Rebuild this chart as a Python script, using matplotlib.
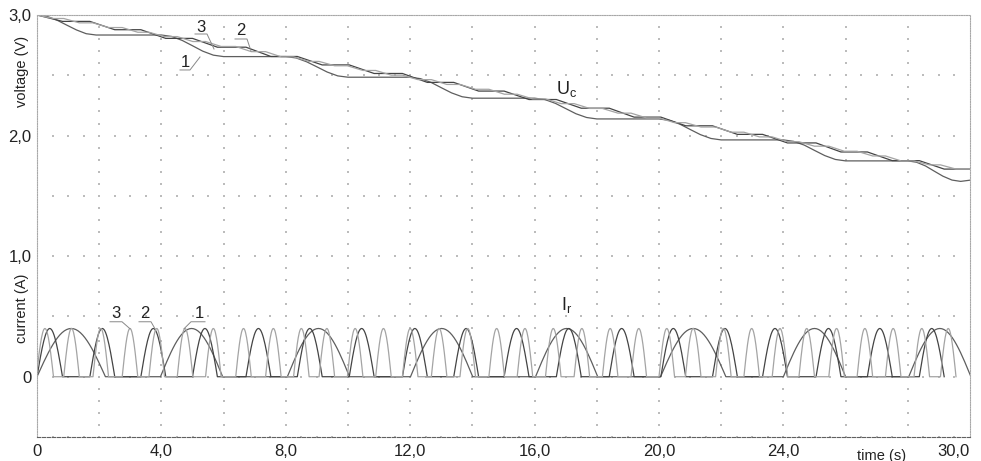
import numpy as np
import matplotlib.pyplot as plt

plt.rcParams['font.family'] = ['Liberation Sans', 'DejaVu Sans']

# ---------------------------------------------------------------------------
# values
# ---------------------------------------------------------------------------
i_peak = 0.4

# current pulses (start, end in s) of the three variants
s1_start = [0.0, 3.97, 8.05, 12.01, 16.03, 20.05, 24.0, 28.03]
s1_end = [2.2, 5.97, 10.05, 14.01, 18.03, 22.15, 26.0, 30.03]

s2_start = [0.0, 1.70, 3.34, 5.00, 6.72, 8.37, 10.04, 11.75, 13.40,
            15.02, 16.70, 18.40, 20.06, 21.72, 23.33, 25.05, 26.70, 28.37]
s2_end = [0.82, 2.50, 4.14, 5.80, 7.52, 9.17, 10.84, 12.55, 14.20,
          15.82, 17.50, 19.20, 20.86, 22.52, 24.13, 25.85, 27.50, 29.17]

s3_start = [-0.02, 0.86, 1.80, 2.74, 3.60, 4.51, 5.42, 6.39, 7.35, 8.25,
            9.07, 9.98, 10.89, 11.75, 12.68, 13.60, 14.53, 15.44, 16.35,
            17.27, 18.18, 19.10, 20.00, 20.85, 21.82, 22.73, 23.64, 24.50,
            25.46, 26.37, 27.28, 28.20, 29.05]
s3_end = [0.53, 1.36, 2.30, 3.24, 4.10, 5.01, 5.92, 6.89, 7.85, 8.75,
          9.57, 10.48, 11.39, 12.25, 13.18, 14.10, 15.03, 15.94, 16.85,
          17.77, 18.68, 19.60, 20.50, 21.35, 22.32, 23.23, 24.14, 25.00,
          25.96, 26.87, 27.78, 28.70, 29.55]

# capacitor voltage
u_start = 3.0
s1_t = [0, 0.32, 0.63, 0.95, 1.27, 1.58, 1.9,
        4.0, 4.33, 4.67, 5.0, 5.33, 5.67, 6.0,
        8.0, 8.33, 8.67, 9.0, 9.33, 9.67, 10.0,
        12.0, 12.33, 12.67, 13.0, 13.33, 13.67, 14.0,
        16.0, 16.33, 16.67, 17.0, 17.33, 17.67, 18.0,
        20.0, 20.33, 20.67, 21.0, 21.33, 21.67, 22.0,
        24.0, 24.33, 24.67, 25.0, 25.33, 25.67, 26.0,
        28.0, 28.28, 28.57, 28.85, 29.13, 29.42, 29.7, 30.0]
s1_u = [3.0, 2.989, 2.959, 2.917, 2.876, 2.845, 2.834,
        2.834, 2.822, 2.789, 2.745, 2.700, 2.667, 2.655,
        2.655, 2.644, 2.612, 2.570, 2.527, 2.495, 2.484,
        2.484, 2.472, 2.441, 2.397, 2.354, 2.322, 2.31,
        2.31, 2.299, 2.267, 2.224, 2.181, 2.150, 2.138,
        2.138, 2.126, 2.095, 2.051, 2.008, 1.976, 1.964,
        1.964, 1.952, 1.921, 1.877, 1.834, 1.802, 1.79,
        1.79, 1.779, 1.748, 1.705, 1.663, 1.631, 1.62, 1.63]
# level reached after each pulse of variants 2 and 3
s2_u = [2.947, 2.878, 2.806, 2.733, 2.656, 2.586, 2.515, 2.441, 2.369,
        2.299, 2.227, 2.153, 2.081, 2.010, 1.939, 1.864, 1.792, 1.722]
s3_u = [2.971, 2.935, 2.896, 2.857, 2.821, 2.780, 2.739, 2.696, 2.653,
        2.615, 2.579, 2.540, 2.501, 2.464, 2.424, 2.384, 2.343, 2.304,
        2.265, 2.225, 2.186, 2.146, 2.107, 2.071, 2.028, 1.989, 1.949,
        1.912, 1.870, 1.831, 1.790, 1.757, 1.722]

colors = ['#5e5e5e', '#444444', '#a4a4a4']


def pulse_line(starts, ends):
    t, i = [], []
    for s, e in zip(starts, ends):
        tt = np.linspace(s, e, 31)
        t.extend(tt)
        i.extend(i_peak * np.sin(np.pi * (tt - s) / (e - s)))
    return t, i


def stair_line(starts, ends, levels):
    t, u = [], []
    prev = u_start
    for s, e, lev in zip(starts, ends, levels):
        t += [s, e]
        u += [prev, lev]
        prev = lev
    return t, u


fig = plt.figure(figsize=(9.81, 4.61), dpi=100)
ax = fig.add_axes([37 / 981, 1 - 437 / 461, 933 / 981, 422 / 461])
ax.set_xlim(0, 30)
ax.set_ylim(-0.5, 3.0)

# dotted grid
gx = np.arange(2, 29, 2)
gy = np.arange(-0.5, 3.01, 0.1)
X, Y = np.meshgrid(gx, gy)
ax.scatter(X.ravel(), Y.ravel(), s=0.55, marker='s', color='#bcbcbc', lw=0, zorder=0)
hx = np.arange(0.5, 30, 0.5)
hy = np.arange(-0.5, 3.0, 0.5)
X, Y = np.meshgrid(hx, hy)
ax.scatter(X.ravel(), Y.ravel(), s=0.55, marker='s', color='#bcbcbc', lw=0, zorder=0)

# currents
for (st, en), c in zip([(s1_start, s1_end), (s2_start, s2_end), (s3_start, s3_end)], colors):
    t, i = pulse_line(st, en)
    ax.plot(t, i, color=c, lw=0.9)

# voltages
ax.plot(s1_t, s1_u, color=colors[0], lw=0.9)
t, u = stair_line(s2_start, s2_end, s2_u)
ax.plot(t + [30], u + [s2_u[-1]], color=colors[1], lw=0.9)
t, u = stair_line(s3_start, s3_end, s3_u)
ax.plot(t + [30], u + [s3_u[-1]], color=colors[2], lw=0.9)


def px(x, y):
    return (x - 37) / 31.1, (377 - y) / 120.67


# curve labels with leader lines
for txt, pos, line in [
        ('3', (201, 27), [(195, 34), (207, 34), (214, 49)]),
        ('2', (241, 31), [(235, 39), (247, 39), (251, 51)]),
        ('1', (185, 63), [(180, 70), (190, 70), (200, 57)]),
        ('3', (116, 314), [(110, 322), (122, 322), (130, 329)]),
        ('2', (145, 314), [(139, 322), (151, 322), (155, 329)]),
        ('1', (199, 314), [(205, 322), (191, 322), (184, 329)])]:
    ax.text(*px(*pos), txt, ha='center', va='center', fontsize=12, color='#222222')
    lx, ly = zip(*[px(*p) for p in line])
    ax.plot(lx, ly, color='#888888', lw=0.7)

ax.text(*px(567, 89), 'U$_\\mathregular{c}$', ha='center', va='center',
        fontsize=13, color='#222222')
ax.text(*px(567, 305), 'I$_\\mathregular{r}$', ha='center', va='center',
        fontsize=13, color='#222222')

# axes frame
for side in ['left', 'top', 'right']:
    ax.spines[side].set_linestyle((0, (1, 1.2)))
    ax.spines[side].set_color('#a8a8a8')
    ax.spines[side].set_linewidth(0.8)
ax.spines['bottom'].set_linestyle((0, (3, 1.5)))
ax.spines['bottom'].set_color('#606060')
ax.spines['bottom'].set_linewidth(0.8)

ax.set_xticks([0, 4, 8, 12, 16, 20, 24, 30])
ax.set_xticklabels(['0', '4,0', '8,0', '12,0', '16,0', '20,0', '24,0', '30,0'])
ax.get_xticklabels()[-1].set_ha('right')
ax.set_yticks([0, 1, 2, 3])
ax.set_yticklabels(['0', '1,0', '2,0', '3,0'])
ax.tick_params(length=0, labelsize=12, colors='#222222', pad=4)
ax.tick_params(axis='x', pad=5)

ax.text(*px(882, 456), 'time (s)', ha='center', va='center', fontsize=10.5,
        color='#222222', clip_on=False)
fig.text(22 / 981, 1 - 71 / 461, 'voltage (V)', rotation=90, ha='center',
         va='center', fontsize=10.5, color='#222222')
fig.text(22 / 981, 1 - 308 / 461, 'current (A)', rotation=90, ha='center',
         va='center', fontsize=10.5, color='#222222')

fig.savefig('out.png', dpi=100)
